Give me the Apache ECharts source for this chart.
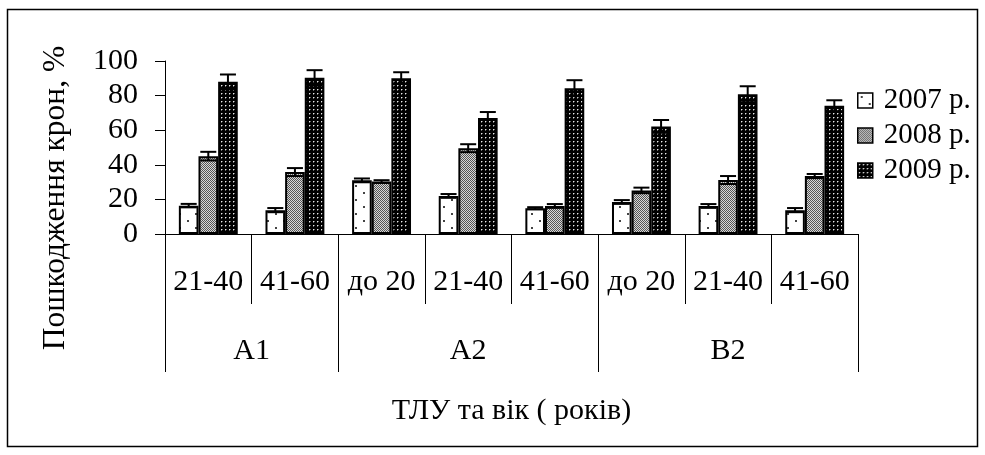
<!DOCTYPE html>
<html><head><meta charset="utf-8">
<script src="https://cdn.jsdelivr.net/npm/echarts@6/dist/echarts.min.js"></script>
<style>html,body{margin:0;padding:0;background:#fff}#c{width:985px;height:455px}</style>
</head><body><div id="c"></div>
<script>
// ---- data ----
const categories = ['21-40', '41-60', 'до 20', '21-40', '41-60', 'до 20', '21-40', '41-60'];
const groupNames = ['А1', 'А2', 'В2'];
const groupSizes = [2, 3, 3];
const seriesNames = ['2007 р.', '2008 р.', '2009 р.'];
const y2007 = [16.4, 13.8, 31.0, 22.0, 14.9, 18.5, 16.2, 13.8];
const y2008 = [45.0, 35.8, 30.3, 49.6, 16.2, 25.2, 31.2, 33.5];
const y2009 = [88.0, 90.3, 90.1, 67.0, 84.3, 62.2, 80.8, 74.1];
const e2007 = [1.0, 1.2, 1.1, 1.1, 0.6, 1.1, 1.1, 1.2];
const e2008 = [2.5, 2.3, 0.8, 2.3, 1.1, 1.6, 2.3, 1.2];
const e2009 = [4.2, 4.4, 3.4, 3.5, 4.6, 3.7, 4.6, 3.2];
const yMin = 0, yMax = 100, yInterval = 20;
const xTitle = 'ТЛУ та вік ( років)';
const yTitle = 'Пошкодження крон, %';

// group boundaries / centres (in category units)
const groupBounds = [0];
groupSizes.forEach(s => groupBounds.push(groupBounds[groupBounds.length - 1] + s));
const groupCenters = groupSizes.map((s, i) => groupBounds[i] + s / 2);

const FONT = 'Liberation Serif';
const GAP = 0.32;

// ---- patterns ----
function mk(w, h, draw) {
  const c = document.createElement('canvas'); c.width = w; c.height = h;
  const g = c.getContext('2d'); draw(g); return c;
}
const pat2007 = mk(16, 14, g => {
  g.fillStyle = '#fff'; g.fillRect(0, 0, 16, 14);
  g.fillStyle = '#444'; g.fillRect(3, 3, 2, 2); g.fillRect(11, 10, 2, 2);
});
const pat2008 = mk(2, 2, g => {
  g.fillStyle = '#d8d8d8'; g.fillRect(0, 0, 2, 2);
  g.fillStyle = '#555'; g.fillRect(0, 0, 1, 1); g.fillRect(1, 1, 1, 1);
});
const pat2009 = mk(4, 4, g => {
  g.fillStyle = '#000'; g.fillRect(0, 0, 4, 4);
  g.fillStyle = '#e8e8e8'; g.fillRect(1, 1, 1, 1);
  g.fillStyle = '#666'; g.fillRect(2, 1, 1, 1); g.fillRect(1, 2, 1, 1);
});
const pats = [pat2007, pat2008, pat2009];
const vals = [y2007, y2008, y2009];
const errs = [e2007, e2008, e2009];

function barSeries(s) {
  return {
    name: seriesNames[s], type: 'bar', xAxisIndex: 0, yAxisIndex: 0,
    data: vals[s], barGap: '0%', barCategoryGap: (GAP * 100) + '%',
    itemStyle: { color: { image: pats[s], repeat: 'repeat' }, borderColor: '#000', borderWidth: 2 },
    emphasis: { disabled: true }, silent: true
  };
}
function errSeries(s) {
  return {
    name: 'err' + s, type: 'custom', xAxisIndex: 0, yAxisIndex: 0, z: 5, silent: true,
    data: vals[s].map((v, i) => [i, v, errs[s][i]]),
    encode: { x: 0, y: 1 },
    renderItem(params, api) {
      const i = api.value(0), v = api.value(1), e = api.value(2);
      const band = api.size([1, 0])[0];
      const bw = band * (1 - GAP) / 3;
      const cx = api.coord([i, v])[0] + (s - 1) * bw;
      const yt = api.coord([i, v + e])[1], yb = api.coord([i, v - e])[1];
      const hw = 8;
      const st = { stroke: '#000', lineWidth: 2 };
      return { type: 'group', children: [
        { type: 'line', shape: { x1: cx, y1: yt, x2: cx, y2: yb }, style: st },
        { type: 'line', shape: { x1: cx - hw, y1: yt, x2: cx + hw, y2: yt }, style: st },
        { type: 'line', shape: { x1: cx - hw, y1: yb, x2: cx + hw, y2: yb }, style: st }
      ] };
    }
  };
}

const chart = echarts.init(document.getElementById('c'), null, { renderer: 'canvas' });
chart.setOption({
  backgroundColor: '#fff',
  animation: false,
  textStyle: { fontFamily: FONT, color: '#000' },
  grid: { left: 165, right: 127, top: 61, bottom: 221 },
  legend: {
    data: seriesNames.map(n => ({ name: n, icon: 'rect' })), orient: 'vertical', left: 857, top: 86,
    itemWidth: 15, itemHeight: 15, itemGap: 6, padding: 0,
    selectedMode: false,
    itemStyle: { borderWidth: 1.5 },
    textStyle: { fontFamily: FONT, fontSize: 29, color: '#000', padding: [0, 0, 0, 6] }
  },
  xAxis: [
    {
      type: 'category', data: categories, position: 'bottom',
      axisLine: { onZero: false, lineStyle: { color: '#000', width: 1 } },
      axisTick: { show: true, interval: 0, alignWithLabel: false, length: 70, lineStyle: { color: '#000', width: 1 } },
      axisLabel: { interval: 0, margin: 33, fontSize: 30, fontFamily: FONT, color: '#000' },
      splitLine: { show: false }
    },
    {
      type: 'value', min: 0, max: groupBounds[groupBounds.length - 1], position: 'bottom',
      axisLine: { show: false, onZero: false },
      axisTick: { show: true, customValues: groupBounds, length: 138, lineStyle: { color: '#000', width: 1 } },
      axisLabel: {
        customValues: groupCenters, margin: 102, fontSize: 30, fontFamily: FONT, color: '#000',
        formatter: v => { const k = groupCenters.indexOf(v); return k >= 0 ? groupNames[k] : ''; }
      },
      splitLine: { show: false },
      name: xTitle, nameLocation: 'middle', nameGap: 162,
      nameTextStyle: { fontSize: 30, fontFamily: FONT, color: '#000' }
    }
  ],
  yAxis: {
    type: 'value', min: yMin, max: yMax, interval: yInterval,
    axisLine: { show: true, onZero: false, lineStyle: { color: '#000', width: 1 } },
    axisTick: { show: true, inside: false, length: 10, lineStyle: { color: '#000', width: 1 } },
    axisLabel: { margin: 27, fontSize: 30, fontFamily: FONT, color: '#000' },
    splitLine: { show: false }
  },
  graphic: [
    { type: 'rect', shape: { x: 7.5, y: 9.5, width: 970, height: 437 }, style: { fill: 'none', stroke: '#000', lineWidth: 1.5 }, silent: true },
    { type: 'text', x: 56, y: 198, rotation: Math.PI / 2, silent: true,
      style: { text: yTitle, fontSize: 31.5, fontFamily: FONT, fill: '#000', align: 'center', verticalAlign: 'middle', textAlign: 'center', textVerticalAlign: 'middle' } }
  ],
  series: [barSeries(0), barSeries(1), barSeries(2), errSeries(0), errSeries(1), errSeries(2)]
});
</script></body></html>
